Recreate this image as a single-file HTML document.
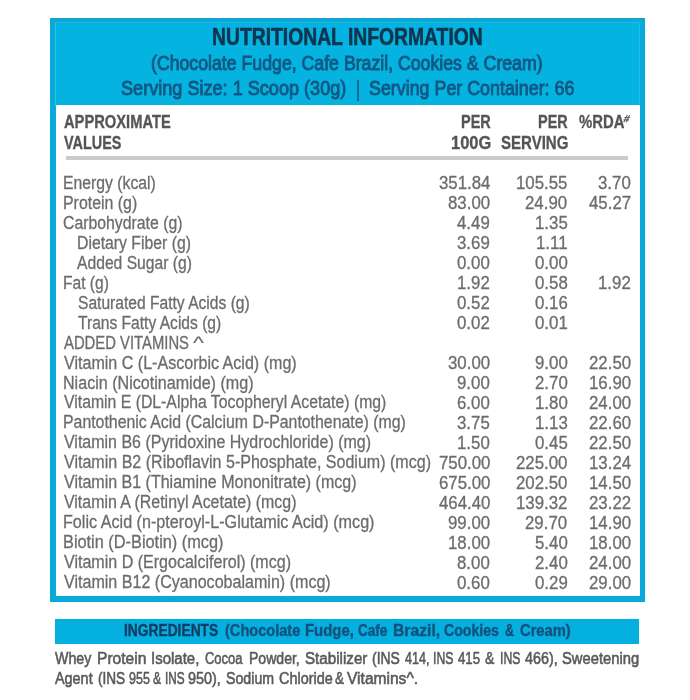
<!DOCTYPE html>
<html><head><meta charset="utf-8"><title>Nutritional Information</title>
<style>
html,body{margin:0;padding:0;background:#fff;}
body{width:690px;height:700px;position:relative;overflow:hidden;font-family:"Liberation Sans", sans-serif;}
.t{position:absolute;white-space:nowrap;line-height:1;transform-origin:0 0;font-weight:400;}
.b{font-weight:700;}
.box{position:absolute;}
#w{position:absolute;left:0;top:0;width:690px;height:700px;background:#fff;filter:blur(0.55px);}
</style></head><body><div id="w">
<div class="box" style="left:49.5px;top:17.5px;width:595.5px;height:584.5px;background:#07aad8;"></div>
<div class="box" style="left:49.5px;top:17.5px;width:595.5px;height:1.2px;background:#1b9cc6;"></div>
<div class="box" style="left:55.5px;top:22.5px;width:584.2px;height:84px;background:#05b3e0;"></div>
<div class="box" style="left:55px;top:22.5px;width:1.2px;height:83px;background:#2cc2ea;"></div>
<div class="box" style="left:639.2px;top:22.5px;width:1px;height:83px;background:#22bde8;"></div>
<div class="box" style="left:55px;top:22.3px;width:585px;height:1px;background:#1fbbe6;"></div>
<div class="box" style="left:55.5px;top:105.2px;width:584.2px;height:490.6px;background:#fff;"></div>
<div class="box" style="left:66.4px;top:155.6px;width:562px;height:4.1px;background:#cbcbcb;"></div>
<div class="box" style="left:55.3px;top:619px;width:584.1px;height:25.1px;background:#03b0e0;"></div>
<span class="t b" style="left:212.00px;top:25px;font-size:24px;color:#11344f;transform:scaleX(0.8048);-webkit-text-stroke:0.6px #11344f;">NUTRITIONAL INFORMATION</span>
<span class="t" style="left:151.35px;top:53px;font-size:20.75px;color:#125883;transform:scaleX(0.8532);-webkit-text-stroke:0.95px #125883;">(Chocolate Fudge, Cafe Brazil, Cookies &amp; Cream)</span>
<span class="t" style="left:121.20px;top:78px;font-size:20.75px;color:#125883;transform:scaleX(0.8720);-webkit-text-stroke:0.95px #125883;">Serving Size: 1 Scoop (30g)</span>
<span class="t" style="left:356.07px;top:78px;font-size:22px;color:#125883;transform:scaleX(0.7333);-webkit-text-stroke:0.5px #125883;">|</span>
<span class="t" style="left:368.80px;top:78px;font-size:20.75px;color:#125883;transform:scaleX(0.8601);-webkit-text-stroke:0.95px #125883;">Serving Per Container: 66</span>
<span class="t b" style="left:63.60px;top:113px;font-size:18px;color:#555555;transform:scaleX(0.8166);-webkit-text-stroke:0.3px #555555;">APPROXIMATE</span>
<span class="t b" style="left:63.60px;top:134px;font-size:18px;color:#555555;transform:scaleX(0.8009);-webkit-text-stroke:0.3px #555555;">VALUES</span>
<span class="t b" style="left:460.89px;top:113px;font-size:18px;color:#555555;transform:scaleX(0.8053);-webkit-text-stroke:0.3px #555555;">PER</span>
<span class="t b" style="left:451.28px;top:134px;font-size:18px;color:#555555;transform:scaleX(0.9160);-webkit-text-stroke:0.3px #555555;">100G</span>
<span class="t b" style="left:537.80px;top:113px;font-size:18px;color:#555555;transform:scaleX(0.8025);-webkit-text-stroke:0.3px #555555;">PER</span>
<span class="t b" style="left:500.90px;top:134px;font-size:18px;color:#555555;transform:scaleX(0.8357);-webkit-text-stroke:0.3px #555555;">SERVING</span>
<span class="t b" style="left:578.60px;top:113px;font-size:18px;color:#555555;transform:scaleX(0.8254);-webkit-text-stroke:0.3px #555555;">%RDA</span>
<span class="t" style="left:63.03px;top:174px;font-size:18px;color:#6c6c6c;transform:scaleX(0.8747);-webkit-text-stroke:0.3px #6c6c6c;">Energy (kcal)</span>
<span class="t" style="left:438.53px;top:174px;font-size:18px;color:#6c6c6c;transform:scaleX(0.9350);-webkit-text-stroke:0.3px #6c6c6c;">351.84</span>
<span class="t" style="left:516.03px;top:174px;font-size:18px;color:#6c6c6c;transform:scaleX(0.9350);-webkit-text-stroke:0.3px #6c6c6c;">105.55</span>
<span class="t" style="left:598.25px;top:174px;font-size:18px;color:#6c6c6c;transform:scaleX(0.9350);-webkit-text-stroke:0.3px #6c6c6c;">3.70</span>
<span class="t" style="left:63.02px;top:194px;font-size:18px;color:#6c6c6c;transform:scaleX(0.8837);-webkit-text-stroke:0.3px #6c6c6c;">Protein (g)</span>
<span class="t" style="left:447.89px;top:194px;font-size:18px;color:#6c6c6c;transform:scaleX(0.9350);-webkit-text-stroke:0.3px #6c6c6c;">83.00</span>
<span class="t" style="left:525.39px;top:194px;font-size:18px;color:#6c6c6c;transform:scaleX(0.9350);-webkit-text-stroke:0.3px #6c6c6c;">24.90</span>
<span class="t" style="left:588.89px;top:194px;font-size:18px;color:#6c6c6c;transform:scaleX(0.9350);-webkit-text-stroke:0.3px #6c6c6c;">45.27</span>
<span class="t" style="left:63.30px;top:214px;font-size:18px;color:#6c6c6c;transform:scaleX(0.8781);-webkit-text-stroke:0.3px #6c6c6c;">Carbohydrate (g)</span>
<span class="t" style="left:457.25px;top:214px;font-size:18px;color:#6c6c6c;transform:scaleX(0.9350);-webkit-text-stroke:0.3px #6c6c6c;">4.49</span>
<span class="t" style="left:534.75px;top:214px;font-size:18px;color:#6c6c6c;transform:scaleX(0.9350);-webkit-text-stroke:0.3px #6c6c6c;">1.35</span>
<span class="t" style="left:76.62px;top:234px;font-size:18px;color:#6c6c6c;transform:scaleX(0.8763);-webkit-text-stroke:0.3px #6c6c6c;">Dietary Fiber (g)</span>
<span class="t" style="left:457.25px;top:234px;font-size:18px;color:#6c6c6c;transform:scaleX(0.9350);-webkit-text-stroke:0.3px #6c6c6c;">3.69</span>
<span class="t" style="left:536.00px;top:234px;font-size:18px;color:#6c6c6c;transform:scaleX(0.9350);-webkit-text-stroke:0.3px #6c6c6c;">1.11</span>
<span class="t" style="left:77.30px;top:254px;font-size:18px;color:#6c6c6c;transform:scaleX(0.8704);-webkit-text-stroke:0.3px #6c6c6c;">Added Sugar (g)</span>
<span class="t" style="left:457.25px;top:254px;font-size:18px;color:#6c6c6c;transform:scaleX(0.9350);-webkit-text-stroke:0.3px #6c6c6c;">0.00</span>
<span class="t" style="left:534.75px;top:254px;font-size:18px;color:#6c6c6c;transform:scaleX(0.9350);-webkit-text-stroke:0.3px #6c6c6c;">0.00</span>
<span class="t" style="left:63.04px;top:274px;font-size:18px;color:#6c6c6c;transform:scaleX(0.8645);-webkit-text-stroke:0.3px #6c6c6c;">Fat (g)</span>
<span class="t" style="left:457.25px;top:274px;font-size:18px;color:#6c6c6c;transform:scaleX(0.9350);-webkit-text-stroke:0.3px #6c6c6c;">1.92</span>
<span class="t" style="left:534.75px;top:274px;font-size:18px;color:#6c6c6c;transform:scaleX(0.9350);-webkit-text-stroke:0.3px #6c6c6c;">0.58</span>
<span class="t" style="left:598.25px;top:274px;font-size:18px;color:#6c6c6c;transform:scaleX(0.9350);-webkit-text-stroke:0.3px #6c6c6c;">1.92</span>
<span class="t" style="left:78.30px;top:294px;font-size:18px;color:#6c6c6c;transform:scaleX(0.8668);-webkit-text-stroke:0.3px #6c6c6c;">Saturated Fatty Acids (g)</span>
<span class="t" style="left:457.25px;top:294px;font-size:18px;color:#6c6c6c;transform:scaleX(0.9350);-webkit-text-stroke:0.3px #6c6c6c;">0.52</span>
<span class="t" style="left:534.75px;top:294px;font-size:18px;color:#6c6c6c;transform:scaleX(0.9350);-webkit-text-stroke:0.3px #6c6c6c;">0.16</span>
<span class="t" style="left:78.00px;top:314px;font-size:18px;color:#6c6c6c;transform:scaleX(0.8659);-webkit-text-stroke:0.3px #6c6c6c;">Trans Fatty Acids (g)</span>
<span class="t" style="left:457.25px;top:314px;font-size:18px;color:#6c6c6c;transform:scaleX(0.9350);-webkit-text-stroke:0.3px #6c6c6c;">0.02</span>
<span class="t" style="left:534.75px;top:314px;font-size:18px;color:#6c6c6c;transform:scaleX(0.9350);-webkit-text-stroke:0.3px #6c6c6c;">0.01</span>
<span class="t" style="left:63.80px;top:334px;font-size:18px;color:#6c6c6c;transform:scaleX(0.8241);-webkit-text-stroke:0.3px #6c6c6c;">ADDED VITAMINS</span>
<span class="t" style="left:63.80px;top:354px;font-size:18px;color:#6c6c6c;transform:scaleX(0.8925);-webkit-text-stroke:0.3px #6c6c6c;">Vitamin C (L-Ascorbic Acid) (mg)</span>
<span class="t" style="left:447.89px;top:354px;font-size:18px;color:#6c6c6c;transform:scaleX(0.9350);-webkit-text-stroke:0.3px #6c6c6c;">30.00</span>
<span class="t" style="left:534.75px;top:354px;font-size:18px;color:#6c6c6c;transform:scaleX(0.9350);-webkit-text-stroke:0.3px #6c6c6c;">9.00</span>
<span class="t" style="left:588.89px;top:354px;font-size:18px;color:#6c6c6c;transform:scaleX(0.9350);-webkit-text-stroke:0.3px #6c6c6c;">22.50</span>
<span class="t" style="left:63.01px;top:374px;font-size:18px;color:#6c6c6c;transform:scaleX(0.8941);-webkit-text-stroke:0.3px #6c6c6c;">Niacin (Nicotinamide) (mg)</span>
<span class="t" style="left:457.25px;top:374px;font-size:18px;color:#6c6c6c;transform:scaleX(0.9350);-webkit-text-stroke:0.3px #6c6c6c;">9.00</span>
<span class="t" style="left:534.75px;top:374px;font-size:18px;color:#6c6c6c;transform:scaleX(0.9350);-webkit-text-stroke:0.3px #6c6c6c;">2.70</span>
<span class="t" style="left:588.89px;top:374px;font-size:18px;color:#6c6c6c;transform:scaleX(0.9350);-webkit-text-stroke:0.3px #6c6c6c;">16.90</span>
<span class="t" style="left:63.80px;top:393px;font-size:18px;color:#6c6c6c;transform:scaleX(0.8771);-webkit-text-stroke:0.3px #6c6c6c;">Vitamin E (DL-Alpha Tocopheryl Acetate) (mg)</span>
<span class="t" style="left:457.25px;top:394px;font-size:18px;color:#6c6c6c;transform:scaleX(0.9350);-webkit-text-stroke:0.3px #6c6c6c;">6.00</span>
<span class="t" style="left:534.75px;top:394px;font-size:18px;color:#6c6c6c;transform:scaleX(0.9350);-webkit-text-stroke:0.3px #6c6c6c;">1.80</span>
<span class="t" style="left:588.89px;top:394px;font-size:18px;color:#6c6c6c;transform:scaleX(0.9350);-webkit-text-stroke:0.3px #6c6c6c;">24.00</span>
<span class="t" style="left:63.02px;top:413px;font-size:18px;color:#6c6c6c;transform:scaleX(0.8808);-webkit-text-stroke:0.3px #6c6c6c;">Pantothenic Acid (Calcium D-Pantothenate) (mg)</span>
<span class="t" style="left:457.25px;top:414px;font-size:18px;color:#6c6c6c;transform:scaleX(0.9350);-webkit-text-stroke:0.3px #6c6c6c;">3.75</span>
<span class="t" style="left:534.75px;top:414px;font-size:18px;color:#6c6c6c;transform:scaleX(0.9350);-webkit-text-stroke:0.3px #6c6c6c;">1.13</span>
<span class="t" style="left:588.89px;top:414px;font-size:18px;color:#6c6c6c;transform:scaleX(0.9350);-webkit-text-stroke:0.3px #6c6c6c;">22.60</span>
<span class="t" style="left:63.80px;top:433px;font-size:18px;color:#6c6c6c;transform:scaleX(0.8878);-webkit-text-stroke:0.3px #6c6c6c;">Vitamin B6 (Pyridoxine Hydrochloride) (mg)</span>
<span class="t" style="left:457.25px;top:434px;font-size:18px;color:#6c6c6c;transform:scaleX(0.9350);-webkit-text-stroke:0.3px #6c6c6c;">1.50</span>
<span class="t" style="left:534.75px;top:434px;font-size:18px;color:#6c6c6c;transform:scaleX(0.9350);-webkit-text-stroke:0.3px #6c6c6c;">0.45</span>
<span class="t" style="left:588.89px;top:434px;font-size:18px;color:#6c6c6c;transform:scaleX(0.9350);-webkit-text-stroke:0.3px #6c6c6c;">22.50</span>
<span class="t" style="left:63.80px;top:453px;font-size:18px;color:#6c6c6c;transform:scaleX(0.8911);-webkit-text-stroke:0.3px #6c6c6c;">Vitamin B2 (Riboflavin 5-Phosphate, Sodium) (mcg)</span>
<span class="t" style="left:438.53px;top:454px;font-size:18px;color:#6c6c6c;transform:scaleX(0.9350);-webkit-text-stroke:0.3px #6c6c6c;">750.00</span>
<span class="t" style="left:516.03px;top:454px;font-size:18px;color:#6c6c6c;transform:scaleX(0.9350);-webkit-text-stroke:0.3px #6c6c6c;">225.00</span>
<span class="t" style="left:588.89px;top:454px;font-size:18px;color:#6c6c6c;transform:scaleX(0.9350);-webkit-text-stroke:0.3px #6c6c6c;">13.24</span>
<span class="t" style="left:63.80px;top:473px;font-size:18px;color:#6c6c6c;transform:scaleX(0.8896);-webkit-text-stroke:0.3px #6c6c6c;">Vitamin B1 (Thiamine Mononitrate) (mcg)</span>
<span class="t" style="left:438.53px;top:474px;font-size:18px;color:#6c6c6c;transform:scaleX(0.9350);-webkit-text-stroke:0.3px #6c6c6c;">675.00</span>
<span class="t" style="left:516.03px;top:474px;font-size:18px;color:#6c6c6c;transform:scaleX(0.9350);-webkit-text-stroke:0.3px #6c6c6c;">202.50</span>
<span class="t" style="left:588.89px;top:474px;font-size:18px;color:#6c6c6c;transform:scaleX(0.9350);-webkit-text-stroke:0.3px #6c6c6c;">14.50</span>
<span class="t" style="left:63.80px;top:493px;font-size:18px;color:#6c6c6c;transform:scaleX(0.8846);-webkit-text-stroke:0.3px #6c6c6c;">Vitamin A (Retinyl Acetate) (mcg)</span>
<span class="t" style="left:438.53px;top:494px;font-size:18px;color:#6c6c6c;transform:scaleX(0.9350);-webkit-text-stroke:0.3px #6c6c6c;">464.40</span>
<span class="t" style="left:516.03px;top:494px;font-size:18px;color:#6c6c6c;transform:scaleX(0.9350);-webkit-text-stroke:0.3px #6c6c6c;">139.32</span>
<span class="t" style="left:588.89px;top:494px;font-size:18px;color:#6c6c6c;transform:scaleX(0.9350);-webkit-text-stroke:0.3px #6c6c6c;">23.22</span>
<span class="t" style="left:63.00px;top:513px;font-size:18px;color:#6c6c6c;transform:scaleX(0.8975);-webkit-text-stroke:0.3px #6c6c6c;">Folic Acid (n-pteroyl-L-Glutamic Acid) (mcg)</span>
<span class="t" style="left:447.89px;top:514px;font-size:18px;color:#6c6c6c;transform:scaleX(0.9350);-webkit-text-stroke:0.3px #6c6c6c;">99.00</span>
<span class="t" style="left:525.39px;top:514px;font-size:18px;color:#6c6c6c;transform:scaleX(0.9350);-webkit-text-stroke:0.3px #6c6c6c;">29.70</span>
<span class="t" style="left:588.89px;top:514px;font-size:18px;color:#6c6c6c;transform:scaleX(0.9350);-webkit-text-stroke:0.3px #6c6c6c;">14.90</span>
<span class="t" style="left:62.99px;top:533px;font-size:18px;color:#6c6c6c;transform:scaleX(0.9067);-webkit-text-stroke:0.3px #6c6c6c;">Biotin (D-Biotin) (mcg)</span>
<span class="t" style="left:447.89px;top:534px;font-size:18px;color:#6c6c6c;transform:scaleX(0.9350);-webkit-text-stroke:0.3px #6c6c6c;">18.00</span>
<span class="t" style="left:534.75px;top:534px;font-size:18px;color:#6c6c6c;transform:scaleX(0.9350);-webkit-text-stroke:0.3px #6c6c6c;">5.40</span>
<span class="t" style="left:588.89px;top:534px;font-size:18px;color:#6c6c6c;transform:scaleX(0.9350);-webkit-text-stroke:0.3px #6c6c6c;">18.00</span>
<span class="t" style="left:63.80px;top:553px;font-size:18px;color:#6c6c6c;transform:scaleX(0.8911);-webkit-text-stroke:0.3px #6c6c6c;">Vitamin D (Ergocalciferol) (mcg)</span>
<span class="t" style="left:457.25px;top:554px;font-size:18px;color:#6c6c6c;transform:scaleX(0.9350);-webkit-text-stroke:0.3px #6c6c6c;">8.00</span>
<span class="t" style="left:534.75px;top:554px;font-size:18px;color:#6c6c6c;transform:scaleX(0.9350);-webkit-text-stroke:0.3px #6c6c6c;">2.40</span>
<span class="t" style="left:588.89px;top:554px;font-size:18px;color:#6c6c6c;transform:scaleX(0.9350);-webkit-text-stroke:0.3px #6c6c6c;">24.00</span>
<span class="t" style="left:63.80px;top:573px;font-size:18px;color:#6c6c6c;transform:scaleX(0.8926);-webkit-text-stroke:0.3px #6c6c6c;">Vitamin B12 (Cyanocobalamin) (mcg)</span>
<span class="t" style="left:457.25px;top:574px;font-size:18px;color:#6c6c6c;transform:scaleX(0.9350);-webkit-text-stroke:0.3px #6c6c6c;">0.60</span>
<span class="t" style="left:534.75px;top:574px;font-size:18px;color:#6c6c6c;transform:scaleX(0.9350);-webkit-text-stroke:0.3px #6c6c6c;">0.29</span>
<span class="t" style="left:588.89px;top:574px;font-size:18px;color:#6c6c6c;transform:scaleX(0.9350);-webkit-text-stroke:0.3px #6c6c6c;">29.00</span>
<span class="t" style="left:192.70px;top:334px;font-size:18px;color:#6c6c6c;transform:scaleX(1.2889);-webkit-text-stroke:0.1px #6c6c6c;">^</span>
<span class="t b" style="left:124.30px;top:622px;font-size:17.25px;color:#123c64;transform:scaleX(0.7991);-webkit-text-stroke:0.4px #123c64;">INGREDIENTS</span>
<span class="t b" style="left:224.50px;top:622px;font-size:17.25px;color:#14507d;transform:scaleX(0.8448);-webkit-text-stroke:0.4px #14507d;">(Chocolate</span>
<span class="t b" style="left:305.34px;top:622px;font-size:17.25px;color:#14507d;transform:scaleX(0.8641);-webkit-text-stroke:0.4px #14507d;">Fudge,</span>
<span class="t b" style="left:358.40px;top:622px;font-size:17.25px;color:#14507d;transform:scaleX(0.7854);-webkit-text-stroke:0.4px #14507d;">Cafe</span>
<span class="t b" style="left:392.99px;top:622px;font-size:17.25px;color:#14507d;transform:scaleX(0.9105);-webkit-text-stroke:0.4px #14507d;">Brazil,</span>
<span class="t b" style="left:444.30px;top:622px;font-size:17.25px;color:#14507d;transform:scaleX(0.8194);-webkit-text-stroke:0.4px #14507d;">Cookies</span>
<span class="t b" style="left:505.20px;top:622px;font-size:17.25px;color:#14507d;transform:scaleX(0.7250);-webkit-text-stroke:0.4px #14507d;">&amp;</span>
<span class="t b" style="left:519.70px;top:622px;font-size:17.25px;color:#14507d;transform:scaleX(0.8536);-webkit-text-stroke:0.4px #14507d;">Cream)</span>
<span class="t" style="left:55.10px;top:650px;font-size:17.25px;color:#5a5a5a;transform:scaleX(0.8231);-webkit-text-stroke:0.6px #5a5a5a;">Whey</span>
<span class="t" style="left:96.60px;top:650px;font-size:17.25px;color:#5a5a5a;transform:scaleX(0.9046);-webkit-text-stroke:0.6px #5a5a5a;">Protein</span>
<span class="t" style="left:150.73px;top:650px;font-size:17.25px;color:#5a5a5a;transform:scaleX(0.8695);-webkit-text-stroke:0.6px #5a5a5a;">Isolate,</span>
<span class="t" style="left:205.10px;top:650px;font-size:17.25px;color:#5a5a5a;transform:scaleX(0.7519);-webkit-text-stroke:0.6px #5a5a5a;">Cocoa</span>
<span class="t" style="left:249.09px;top:650px;font-size:17.25px;color:#5a5a5a;transform:scaleX(0.8144);-webkit-text-stroke:0.6px #5a5a5a;">Powder,</span>
<span class="t" style="left:304.80px;top:650px;font-size:17.25px;color:#5a5a5a;transform:scaleX(0.8792);-webkit-text-stroke:0.6px #5a5a5a;">Stabilizer</span>
<span class="t" style="left:372.39px;top:650px;font-size:17.25px;color:#5a5a5a;transform:scaleX(0.8092);-webkit-text-stroke:0.6px #5a5a5a;">(INS</span>
<span class="t" style="left:404.50px;top:650px;font-size:17.25px;color:#5a5a5a;transform:scaleX(0.7291);-webkit-text-stroke:0.6px #5a5a5a;">414,</span>
<span class="t" style="left:433.19px;top:650px;font-size:17.25px;color:#5a5a5a;transform:scaleX(0.7083);-webkit-text-stroke:0.6px #5a5a5a;">INS</span>
<span class="t" style="left:457.80px;top:650px;font-size:17.25px;color:#5a5a5a;transform:scaleX(0.7663);-webkit-text-stroke:0.6px #5a5a5a;">415</span>
<span class="t" style="left:484.50px;top:650px;font-size:17.25px;color:#5a5a5a;transform:scaleX(0.8083);-webkit-text-stroke:0.6px #5a5a5a;">&amp;</span>
<span class="t" style="left:499.69px;top:650px;font-size:17.25px;color:#5a5a5a;transform:scaleX(0.7083);-webkit-text-stroke:0.6px #5a5a5a;">INS</span>
<span class="t" style="left:525.20px;top:650px;font-size:17.25px;color:#5a5a5a;transform:scaleX(0.8306);-webkit-text-stroke:0.6px #5a5a5a;">466),</span>
<span class="t" style="left:562.30px;top:650px;font-size:17.25px;color:#5a5a5a;transform:scaleX(0.8553);-webkit-text-stroke:0.6px #5a5a5a;">Sweetening</span>
<span class="t" style="left:55.20px;top:670px;font-size:17.25px;color:#5a5a5a;transform:scaleX(0.8347);-webkit-text-stroke:0.6px #5a5a5a;">Agent</span>
<span class="t" style="left:97.51px;top:670px;font-size:17.25px;color:#5a5a5a;transform:scaleX(0.7880);-webkit-text-stroke:0.6px #5a5a5a;">(INS</span>
<span class="t" style="left:129.00px;top:670px;font-size:17.25px;color:#5a5a5a;transform:scaleX(0.7237);-webkit-text-stroke:0.6px #5a5a5a;">955</span>
<span class="t" style="left:153.00px;top:670px;font-size:17.25px;color:#5a5a5a;transform:scaleX(0.7000);-webkit-text-stroke:0.6px #5a5a5a;">&amp;</span>
<span class="t" style="left:164.52px;top:670px;font-size:17.25px;color:#5a5a5a;transform:scaleX(0.6826);-webkit-text-stroke:0.6px #5a5a5a;">INS</span>
<span class="t" style="left:187.80px;top:670px;font-size:17.25px;color:#5a5a5a;transform:scaleX(0.8358);-webkit-text-stroke:0.6px #5a5a5a;">950),</span>
<span class="t" style="left:226.10px;top:670px;font-size:17.25px;color:#5a5a5a;transform:scaleX(0.8225);-webkit-text-stroke:0.6px #5a5a5a;">Sodium</span>
<span class="t" style="left:278.80px;top:670px;font-size:17.25px;color:#5a5a5a;transform:scaleX(0.8374);-webkit-text-stroke:0.6px #5a5a5a;">Chloride</span>
<span class="t" style="left:335.40px;top:670px;font-size:17.25px;color:#5a5a5a;transform:scaleX(0.7750);-webkit-text-stroke:0.6px #5a5a5a;">&amp;</span>
<span class="t" style="left:347.00px;top:670px;font-size:17.25px;color:#5a5a5a;transform:scaleX(0.9021);-webkit-text-stroke:0.6px #5a5a5a;">Vitamins^.</span>
<span class="t b" style="left:625.00px;top:114px;font-size:10px;color:#555555;transform:scaleX(1.0500) skewX(-14deg);-webkit-text-stroke:0.3px #555555;">#</span>
</div></body></html>
